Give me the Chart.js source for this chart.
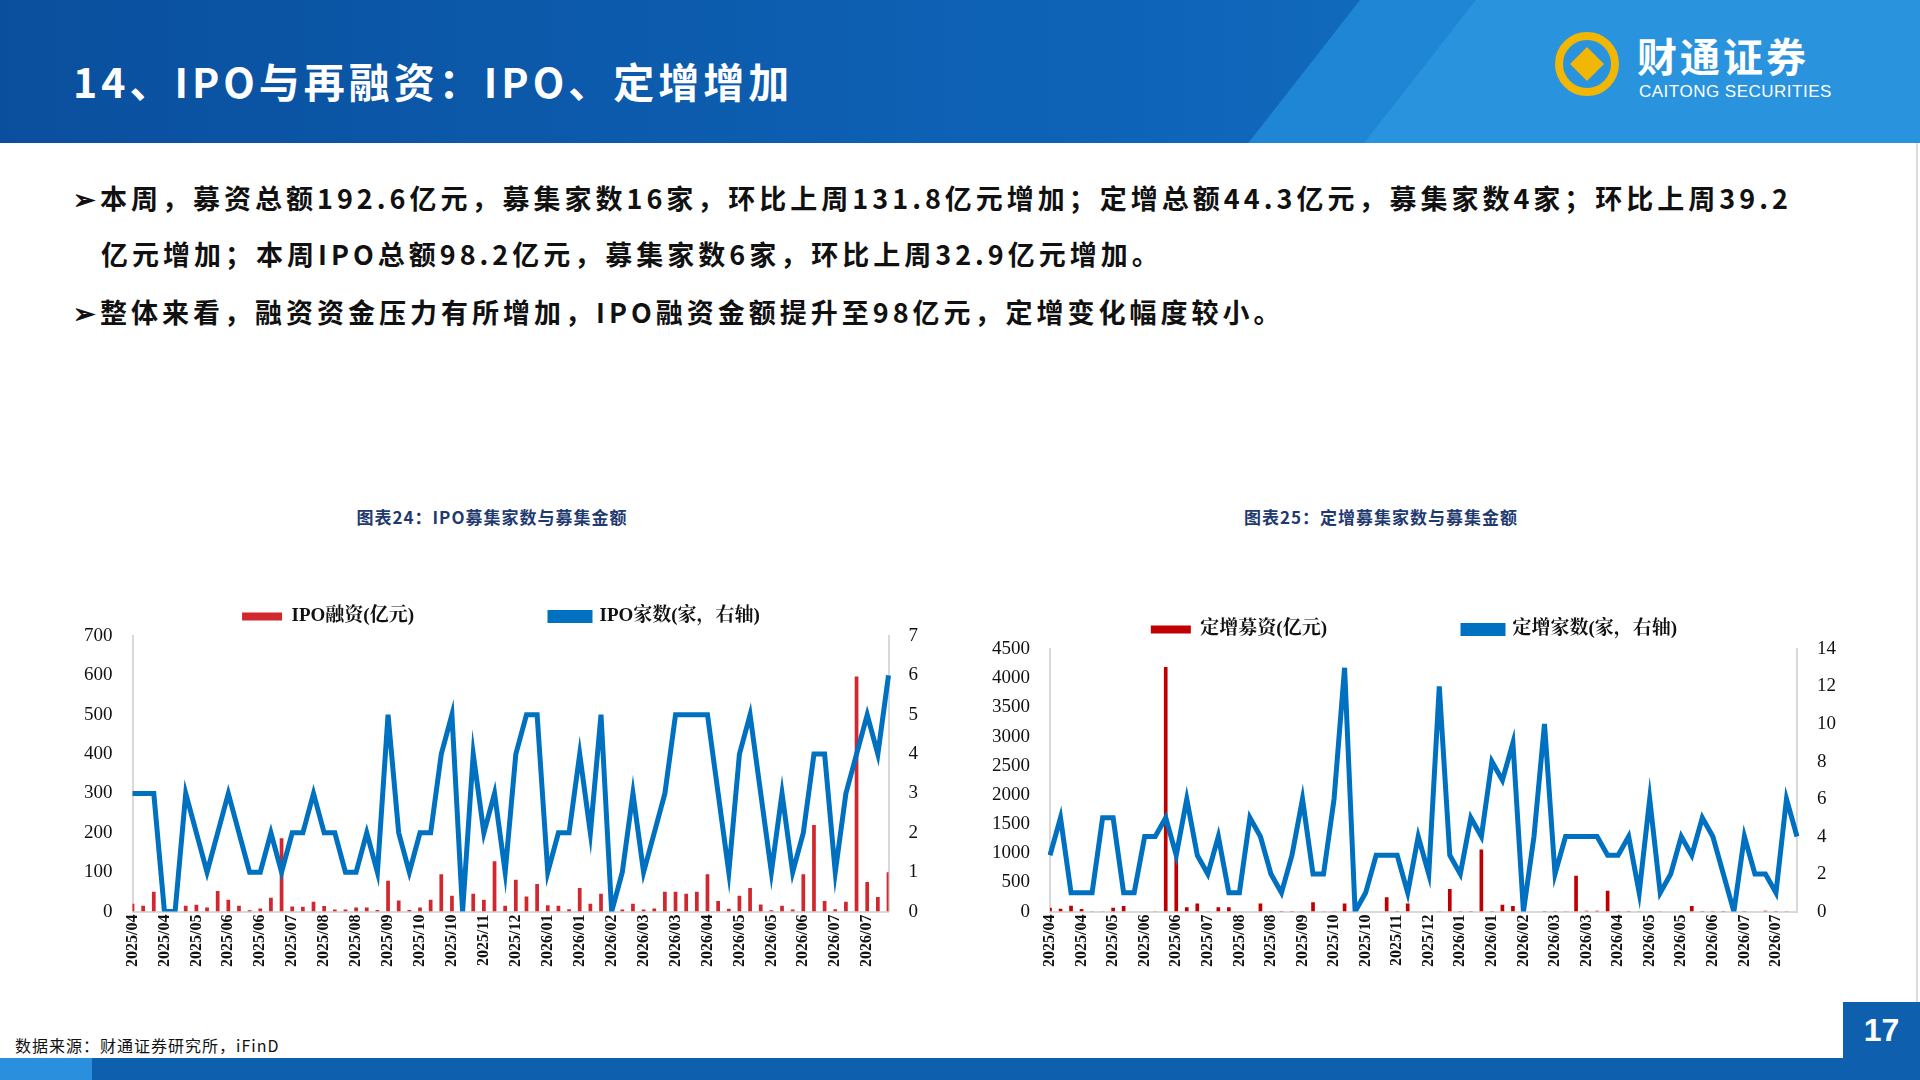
<!DOCTYPE html>
<html><head><meta charset="utf-8">
<script src="https://cdn.jsdelivr.net/npm/chart.js@4"></script>
<style>
body{margin:0;width:1920px;height:1080px;position:relative;overflow:hidden;background:#fff;font-family:"Noto Sans CJK SC",sans-serif}
#hdr{position:absolute;left:0;top:0;width:1920px;height:143px;background:linear-gradient(90deg,#0a4f9e 0%,#0e64b8 60%,#1a78c8 100%);overflow:hidden}
#hdr .diag{position:absolute;left:1360px;top:0;width:700px;height:143px;background:#1f86d6;transform:skewX(-38deg);transform-origin:top left}
#hdr .diag2{position:absolute;left:1420px;top:0;width:700px;height:143px;background:#2a93de;transform:skewX(-38deg)}
#title{position:absolute;left:73px;top:50px;color:#fff;font-size:41px;font-weight:700;letter-spacing:4px}
#logo{position:absolute;left:1555px;top:30px;color:#fff}
#logo .ic{position:absolute;left:0;top:2px;width:64px;height:64px;border-radius:50%;border:8px solid #f2b705;box-sizing:border-box}
#logo .ic2{position:absolute;left:20px;top:22px;width:24px;height:24px;background:#f2b705;transform:rotate(45deg)}
#logo .cn{position:absolute;left:82px;top:-4px;font-size:40px;font-weight:700;white-space:nowrap;letter-spacing:3px}
#logo .en{position:absolute;left:84px;top:52px;font-size:17px;white-space:nowrap;font-family:"Liberation Sans";letter-spacing:0.5px}
.txt{position:absolute;left:73px;font-size:27px;font-weight:700;color:#111;white-space:nowrap;letter-spacing:4px}
.ct{position:absolute;font-size:17px;font-weight:700;color:#1f3a70;white-space:nowrap;transform:translateX(-50%);letter-spacing:1px}
#src{position:absolute;left:15px;top:1033px;font-size:16px;color:#111;letter-spacing:1px}
#bot{position:absolute;left:0;top:1058px;width:1920px;height:22px;background:#0e5fae}
#bot2{position:absolute;left:0;top:1058px;width:92px;height:22px;background:#2a8fdc}
#pg{position:absolute;left:1843px;top:1002px;width:77px;height:56px;background:#0e5fae;color:#fff;font-size:32px;font-weight:700;text-align:center;line-height:56px;font-family:"Liberation Sans"}
#rl{position:absolute;left:1916px;top:143px;width:2px;height:915px;background:#ddd}
.box{position:absolute}
</style></head><body>
<div id="hdr"><div class="diag"></div><div class="diag2"></div></div>
<div id="title">14、IPO与再融资：IPO、定增增加</div>
<div id="logo"><div class="ic"></div><div class="ic2"></div><div class="cn">财通证券</div><div class="en">CAITONG SECURITIES</div></div>
<div class="txt" style="top:178px">➢本周，募资总额192.6亿元，募集家数16家，环比上周131.8亿元增加；定增总额44.3亿元，募集家数4家；环比上周39.2</div>
<div class="txt" style="top:234px;left:101px">亿元增加；本周IPO总额98.2亿元，募集家数6家，环比上周32.9亿元增加。</div>
<div class="txt" style="top:292px">➢整体来看，融资资金压力有所增加，IPO融资金额提升至98亿元，定增变化幅度较小。</div>
<div class="ct" style="left:492px;top:504px">图表24：IPO募集家数与募集金额</div>
<div class="ct" style="left:1381px;top:504px">图表25：定增募集家数与募集金额</div>
<div class="box" style="left:70px;top:585px;width:862px;height:385px"><canvas id="c1"></canvas></div>
<div class="box" style="left:978px;top:598px;width:872px;height:372px"><canvas id="c2"></canvas></div>
<div id="src">数据来源：财通证券研究所，iFinD</div>
<div id="rl"></div>
<div id="bot"></div><div id="bot2"></div>
<div id="pg">17</div>
<script>
const ipoAmount=[20,15,50,0,0,15,17,10,52,30,15,3,8,35,186,13,12,25,14,5,5,10,10,4,78,28,4,10,30,95,40,0,45,30,128,15,
81,38,70,16,15,6,60,20,45,0,5,20,5,8,50,50,45,50,95,27,7,40,60,18,3,15,5,95,220,27,6,25,597,75,37,100];
const ipoCount=[3,3,3,0,0,3,2,1,2,3,2,1,1,2,1,2,2,3,2,2,1,1,2,1,5,2,1,2,2,4,5,0,4,2,3,1,
4,5,5,1,2,2,4,2,5,0,1,3,1,2,3,5,5,5,5,3,1,4,5,3,1,3,1,2,4,4,1,3,4,5,4,6];
const pfAmount=[65,50,100,45,5,4,65,95,3,3,5,4190,935,75,140,5,75,75,3,3,140,5,10,10,5,160,5,5,140,0,0,3,245,8,140,3,3,
5,385,8,8,1065,10,115,95,0,0,10,10,5,612,12,12,355,8,8,5,3,5,3,3,95,10,10,10,0,10,3,15,8,5,3];
const pfCount=[3,5,1,1,1,5,5,1,1,4,4,5,3,6,3,2,4,1,1,5,4,2,1,3,6,2,2,6,13,0,1,3,3,3,1,4,2,
12,3,2,5,4,8,7,9,0,4,10,2,4,4,4,4,3,3,4,1,6,1,2,4,3,5,4,2,0,4,2,2,1,6,4];
const weeks=[];
{let d=new Date(2025,3,4);for(let i=0;i<72;i++){weeks.push(d.getFullYear()+'/'+String(d.getMonth()+1).padStart(2,'0'));d=new Date(d.getTime()+7*864e5);}}
const serif='"Liberation Serif","Noto Serif CJK SC","Noto Sans CJK SC",serif';
const gap='\u3000\u3000\u3000\u3000\u3000\u3000';
function mk(id,amt,cnt,barLabel,lineLabel,barColor,lmax,lstep,rmax,rstep){
 new Chart(document.getElementById(id),{
  data:{labels:weeks,datasets:[
   {type:'bar',label:barLabel+gap,data:amt,backgroundColor:barColor,barPercentage:0.35,categoryPercentage:1,yAxisID:'y',order:2},
   {type:'line',label:lineLabel,data:cnt,borderColor:'#0070c0',backgroundColor:'#0070c0',borderWidth:5,pointRadius:0,tension:0,yAxisID:'y1',order:1}
  ]},
  options:{responsive:true,maintainAspectRatio:false,animation:false,devicePixelRatio:1,
   layout:{padding:{top:0}},
   plugins:{legend:{position:'top',labels:{boxWidth:40,boxHeight:8,padding:22,color:'#111',sort:(a,b)=>a.datasetIndex-b.datasetIndex,font:{family:serif,size:19,weight:'bold'}}},tooltip:{enabled:false}},
   scales:{
    x:{offset:false,grid:{display:false,drawTicks:false},border:{color:'#d9d9d9',width:2},
       ticks:{autoSkip:false,maxRotation:90,minRotation:90,color:'#111',font:{family:serif,size:16,weight:'bold'},
       callback:(v,i)=>i%3===0?weeks[i]:null}},
    y:{min:0,max:lmax,ticks:{stepSize:lstep,autoSkip:false,color:'#111',font:{family:serif,size:19},padding:14,callback:v=>String(v)},grid:{display:false,tickLength:6,tickColor:'#d9d9d9'},border:{color:'#d9d9d9',width:2}},
    y1:{position:'right',min:0,max:rmax,ticks:{stepSize:rstep,autoSkip:false,color:'#111',font:{family:serif,size:19},padding:14},grid:{display:false,drawOnChartArea:false,tickLength:6,tickColor:'#d9d9d9'},border:{color:'#d9d9d9',width:2}}
   }}
 });
}
mk('c1',ipoAmount,ipoCount,'IPO融资(亿元)','IPO家数(家，右轴)','#d0282e',700,100,7,1);
mk('c2',pfAmount,pfCount,'定增募资(亿元)','定增家数(家，右轴)','#c00000',4500,500,14,2);
</script>
</body></html>
